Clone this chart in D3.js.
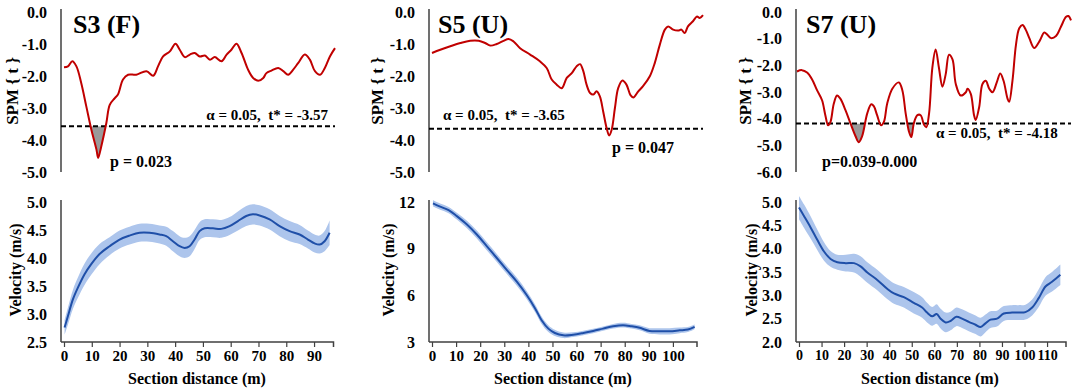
<!DOCTYPE html>
<html>
<head>
<meta charset="utf-8">
<script src="https://cdn.jsdelivr.net/npm/d3@7"></script>
<style>
  body { margin: 0; background: #fff; }
  svg { display: block; }
  text { font-family: "Liberation Serif", "Times New Roman", serif; font-weight: bold; fill: #000; }
</style>
</head>
<body>
<div id="chart"></div>
<script>
// ---- data ----

// SPM{t} curves (top row)
const s3SpmX = [0, 1.4, 2.95, 4.4, 6.1, 7.9, 9.7, 11.5, 12.1, 13.2, 15.0, 16.2, 18.0, 19.1, 20.9, 22.7, 25.6, 29.2, 31.6, 33.3, 35.1, 37.5, 39.5, 41.0, 42.8, 44.6, 46.3, 48.1, 49.9, 51.7, 53.4, 55.8, 57.6, 59.3, 61.1, 62.9, 65.2, 67.0, 68.8, 70.6, 71.7, 73.5, 75.9, 77.7, 79.4, 81.2, 83.0, 85.3, 87.1, 88.9, 90.7, 92.4, 94.2, 96.0];
const s3SpmT = [-1.73, -1.70, -1.54, -1.70, -2.22, -2.95, -3.68, -4.30, -4.56, -4.20, -3.47, -2.90, -2.69, -2.58, -2.11, -1.96, -1.96, -1.85, -1.99, -1.70, -1.39, -1.23, -0.99, -1.18, -1.41, -1.33, -1.28, -1.39, -1.36, -1.49, -1.41, -1.54, -1.33, -1.18, -0.99, -1.28, -1.80, -2.06, -2.15, -2.06, -1.91, -1.83, -1.75, -1.85, -1.96, -1.80, -1.59, -1.33, -1.49, -1.85, -1.96, -1.75, -1.39, -1.13];

const s5SpmX = [0, 3.3, 7.3, 11.3, 15.2, 18.6, 21.2, 23.2, 25.8, 28.5, 30.5, 32.5, 35.1, 39.1, 43.0, 45.7, 47.7, 49.7, 51.7, 53.7, 55.7, 57.6, 59.0, 60.3, 61.6, 63.0, 64.3, 65.6, 66.9, 68.2, 69.6, 70.6, 71.6, 72.9, 74.2, 75.9, 77.5, 79.1, 80.2, 82.2, 84.1, 86.8, 88.8, 90.8, 92.8, 94.1, 96.1, 98.1, 99.4, 100.7, 102.0, 104.0, 105.6, 106.7, 108.0];
const s5SpmT = [-1.28, -1.18, -1.07, -0.97, -0.90, -0.90, -0.97, -1.05, -1.00, -0.90, -0.84, -0.92, -1.13, -1.33, -1.54, -1.75, -2.11, -2.27, -2.38, -2.06, -1.91, -1.70, -1.63, -1.85, -2.27, -2.53, -2.58, -2.48, -2.64, -3.10, -3.63, -3.86, -3.68, -3.00, -2.38, -2.14, -2.27, -2.60, -2.67, -2.48, -2.32, -2.01, -1.59, -1.02, -0.55, -0.45, -0.55, -0.58, -0.55, -0.66, -0.45, -0.29, -0.14, -0.19, -0.10];

const s7SpmX = [0, 2.1, 4.3, 6.4, 8.6, 10.7, 12.1, 13.3, 14.3, 15.7, 17.1, 18.5, 20.7, 22.8, 25.0, 26.4, 27.8, 30.0, 31.7, 32.8, 34.2, 35.9, 37.1, 38.5, 40.7, 43.5, 45.0, 46.4, 47.8, 48.8, 49.9, 51.4, 52.8, 54.2, 55.2, 56.4, 57.8, 59.2, 60.6, 62.1, 63.5, 64.9, 66.4, 67.8, 69.9, 72.1, 72.8, 74.2, 75.6, 76.3, 77.8, 79.2, 80.6, 82.1, 83.5, 85.3, 86.8, 88.2, 89.9, 90.6, 92.0, 93.5, 94.9, 96.3, 97.7, 99.2, 101.3, 103.5, 105.6, 107.0, 108.5, 110.6, 112.7, 114.9, 115.9, 117.0];
const s7SpmT = [-2.23, -2.18, -2.27, -2.52, -2.94, -3.31, -3.87, -4.25, -4.12, -3.44, -3.13, -3.25, -3.68, -4.17, -4.66, -4.88, -4.66, -3.80, -3.46, -3.53, -3.87, -4.25, -4.12, -3.44, -2.88, -2.64, -2.94, -3.80, -4.48, -4.69, -4.17, -3.87, -3.87, -4.22, -4.32, -3.80, -2.09, -1.41, -2.09, -2.80, -2.33, -1.60, -1.78, -2.70, -3.13, -3.01, -2.88, -3.07, -3.87, -4.05, -3.56, -2.70, -2.58, -2.88, -3.01, -2.64, -2.31, -2.58, -3.25, -3.37, -2.58, -1.23, -0.61, -0.49, -0.67, -0.98, -1.35, -1.10, -0.77, -0.86, -0.98, -0.90, -0.55, -0.18, -0.15, -0.31];

// critical thresholds and supra-threshold clusters
const thresholds = [-3.57, -3.65, -4.18];
const thresholdLabels = ['α = 0.05,  t* = -3.57', 'α = 0.05,  t* = -3.65', 'α = 0.05,  t* = -4.18'];
const pLabels = ['p = 0.023', 'p = 0.047', 'p=0.039-0.000'];
const clusters = [[[8, 16]], [], [[21, 31], [46, 51]]];
const panelTitles = ['S3 (F)', 'S5 (U)', 'S7 (U)'];

// velocity mean +/- band (bottom row)
const s3VelX = [0.2, 1.4, 3.2, 5.0, 7.4, 9.8, 12.8, 16.4, 20.0, 23.6, 27.2, 30.8, 34.4, 36.8, 39.2, 41.6, 43.4, 45.2, 47.0, 48.8, 50.6, 53.6, 56.6, 59.6, 62.6, 65.6, 68.0, 70.4, 74.0, 77.6, 81.2, 84.8, 87.8, 90.2, 92.0, 93.8, 95.6];
const s3VelMean = [2.76, 2.96, 3.26, 3.47, 3.71, 3.89, 4.07, 4.21, 4.33, 4.40, 4.45, 4.45, 4.42, 4.39, 4.30, 4.21, 4.18, 4.21, 4.33, 4.48, 4.53, 4.53, 4.52, 4.57, 4.66, 4.75, 4.78, 4.76, 4.69, 4.57, 4.48, 4.42, 4.33, 4.26, 4.24, 4.30, 4.45];
const s3VelSd = [0.13, 0.15, 0.17, 0.18, 0.19, 0.19, 0.18, 0.16, 0.16, 0.16, 0.16, 0.16, 0.16, 0.17, 0.18, 0.18, 0.18, 0.18, 0.17, 0.16, 0.16, 0.16, 0.16, 0.16, 0.17, 0.18, 0.18, 0.18, 0.18, 0.18, 0.18, 0.17, 0.16, 0.16, 0.16, 0.18, 0.22];

const s5VelX = [0.4, 3.4, 6.9, 10.3, 14.5, 18.6, 22.8, 26.9, 31.0, 35.2, 39.3, 42.8, 45.5, 48.3, 51.0, 54.5, 58.6, 62.8, 66.9, 71.0, 75.2, 79.3, 82.8, 86.2, 90.3, 94.5, 98.6, 102.8, 106.2, 109.0];
const s5VelMean = [11.91, 11.70, 11.48, 11.09, 10.55, 9.91, 9.15, 8.40, 7.64, 6.88, 6.02, 5.16, 4.40, 3.86, 3.58, 3.43, 3.47, 3.58, 3.71, 3.86, 4.01, 4.08, 4.01, 3.91, 3.71, 3.69, 3.69, 3.75, 3.80, 3.97];
const s5VelSd = [0.2, 0.2, 0.2, 0.22, 0.24, 0.25, 0.26, 0.26, 0.26, 0.26, 0.26, 0.25, 0.24, 0.22, 0.2, 0.18, 0.15, 0.14, 0.14, 0.14, 0.15, 0.15, 0.15, 0.16, 0.18, 0.2, 0.2, 0.18, 0.16, 0.15];

const s7VelX = [0, 2.2, 5.2, 8.1, 11.1, 14.0, 17.0, 20.7, 24.4, 27.3, 30.3, 34.7, 39.1, 42.1, 46.5, 50.9, 54.6, 56.8, 59.1, 61.0, 62.8, 65.0, 67.2, 69.8, 72.3, 75.3, 78.3, 80.5, 82.7, 84.9, 87.8, 90.8, 94.5, 97.4, 100.4, 103.4, 106.3, 109.3, 112.2, 115.9];
const s7VelMean = [4.88, 4.70, 4.45, 4.19, 3.94, 3.78, 3.71, 3.69, 3.69, 3.62, 3.49, 3.33, 3.14, 3.04, 2.96, 2.84, 2.74, 2.63, 2.55, 2.60, 2.50, 2.42, 2.45, 2.54, 2.50, 2.43, 2.37, 2.32, 2.40, 2.48, 2.50, 2.61, 2.63, 2.63, 2.64, 2.74, 2.94, 3.19, 3.29, 3.44];
const s7VelSd = [0.25, 0.25, 0.24, 0.22, 0.2, 0.17, 0.16, 0.18, 0.2, 0.22, 0.22, 0.22, 0.22, 0.22, 0.22, 0.23, 0.22, 0.21, 0.2, 0.21, 0.21, 0.21, 0.2, 0.2, 0.2, 0.2, 0.2, 0.2, 0.19, 0.18, 0.17, 0.16, 0.16, 0.16, 0.16, 0.17, 0.19, 0.2, 0.21, 0.22];

// tick values
const spmTicks5 = [0, -1, -2, -3, -4, -5];
const spmTicks6 = [0, -1, -2, -3, -4, -5, -6];
const velTicksS3 = [2.5, 3.0, 3.5, 4.0, 4.5, 5.0];
const velTicksS5 = [3, 6, 9, 12];
const velTicksS7 = [2.0, 2.5, 3.0, 3.5, 4.0, 4.5, 5.0];
const distTicksS3 = [0, 10, 20, 30, 40, 50, 60, 70, 80, 90];
const distTicksS5 = [0, 10, 20, 30, 40, 50, 60, 70, 80, 90, 100];
const distTicksS7 = [0, 10, 20, 30, 40, 50, 60, 70, 80, 90, 100, 110];

// ---- layout per panel ----
const panels = [
  { spmX: s3SpmX, spmT: s3SpmT, spmTicks: spmTicks5, velX: s3VelX, velMean: s3VelMean, velSd: s3VelSd,
    velTicks: velTicksS3, distTicks: distTicksS3, dec: 1,
    axisX: 61, spmRange: [64, 335], spmMax: 96, distMax: 97, distRange: [64, 333.5],
    title: [73, 33], thrText: [328, 120, 'end'], pText: [110, 167], spmLab: 12, velLab: 15, distLab: 197 },
  { spmX: s5SpmX, spmT: s5SpmT, spmTicks: spmTicks5, velX: s5VelX, velMean: s5VelMean, velSd: s5VelSd,
    velTicks: velTicksS5, distTicks: distTicksS5, dec: 0,
    axisX: 429, spmRange: [432, 703], spmMax: 108, distMax: 110, distRange: [432, 697],
    title: [438, 33], thrText: [443, 120, 'start'], pText: [612, 153], spmLab: 377, velLab: 388, distLab: 563 },
  { spmX: s7SpmX, spmT: s7SpmT, spmTicks: spmTicks6, velX: s7VelX, velMean: s7VelMean, velSd: s7VelSd,
    velTicks: velTicksS7, distTicks: distTicksS7, dec: 1,
    axisX: 796, spmRange: [797, 1071], spmMax: 117, distMax: 118.4, distRange: [799, 1066],
    title: [806, 33], thrText: [936, 138, 'start'], pText: [822, 167], spmLab: 745, velLab: 751, distLab: 930 }
];

const width = 1074;
const height = 388;
const red = '#c00000';
const blue = '#1f4fa8';
const band = '#adc5ec';
const axisColor = '#404040';

const svg = d3.select('#chart').append('svg')
  .attr('width', width)
  .attr('height', height);
const defs = svg.append('defs');

panels.forEach((p, i) => {
  const g = svg.append('g');

  // ---------- top: SPM{t} ----------
  const spmMin = d3.min(p.spmTicks);
  const xs = d3.scaleLinear().domain([0, p.spmMax]).range(p.spmRange);
  const ys = d3.scaleLinear().domain([spmMin, 0]).range([172, 12]);
  const spmData = p.spmX.map((x, k) => ({ x: x, t: p.spmT[k] }));
  const thr = thresholds[i];

  // shaded supra-threshold clusters
  const clipId = 'clip' + i;
  defs.append('clipPath').attr('id', clipId)
    .selectAll('rect').data(clusters[i]).join('rect')
    .attr('x', d => xs(d[0]))
    .attr('width', d => xs(d[1]) - xs(d[0]))
    .attr('y', ys(thr))
    .attr('height', ys(spmMin) - ys(thr));

  const shadeArea = d3.area()
    .x(d => xs(d.x))
    .y0(ys(thr))
    .y1(d => ys(d.t))
    .curve(d3.curveCatmullRom);
  if (clusters[i].length) {
    g.append('path')
      .datum(spmData)
      .attr('d', shadeArea)
      .attr('fill', '#9a9a9a')
      .attr('clip-path', `url(#${clipId})`);
  }

  // y axis
  const yAxisTop = g.append('g')
    .attr('transform', `translate(${p.axisX},0)`)
    .call(d3.axisLeft(ys).tickValues(p.spmTicks).tickSize(0).tickSizeOuter(0).tickPadding(14)
      .tickFormat(d => d.toFixed(1)));
  yAxisTop.select('.domain').attr('d', 'M0,9V172').attr('stroke', axisColor).attr('stroke-width', 1.5);
  yAxisTop.selectAll('text').attr('font-size', 16).style('font-family', null);

  // threshold line
  g.append('line')
    .attr('x1', p.axisX).attr('x2', p.spmRange[1])
    .attr('y1', ys(thr)).attr('y2', ys(thr))
    .attr('stroke', '#000').attr('stroke-width', 2)
    .attr('stroke-dasharray', '5,3');

  // SPM trajectory
  const spmLine = d3.line()
    .x(d => xs(d.x))
    .y(d => ys(d.t))
    .curve(d3.curveCatmullRom);
  g.append('path')
    .datum(spmData)
    .attr('d', spmLine)
    .attr('fill', 'none')
    .attr('stroke', red)
    .attr('stroke-width', 2);

  // texts
  g.append('text')
    .attr('x', p.title[0]).attr('y', p.title[1])
    .attr('font-size', 26)
    .text(panelTitles[i]);
  g.append('text')
    .attr('x', p.thrText[0]).attr('y', p.thrText[1])
    .attr('text-anchor', p.thrText[2])
    .attr('font-size', 15)
    .style('white-space', 'pre')
    .text(thresholdLabels[i]);
  g.append('text')
    .attr('x', p.pText[0]).attr('y', p.pText[1])
    .attr('font-size', 16)
    .text(pLabels[i]);
  g.append('text')
    .attr('transform', `translate(${p.spmLab},91) rotate(-90)`)
    .attr('text-anchor', 'middle')
    .attr('dy', '0.35em')
    .attr('font-size', 17)
    .style('white-space', 'pre')
    .text('SPM { t }');

  // ---------- bottom: velocity ----------
  const xv = d3.scaleLinear().domain([0, p.distMax]).range(p.distRange);
  const yv = d3.scaleLinear().domain(d3.extent(p.velTicks)).range([342, 202]);
  const velData = p.velX.map((x, k) => ({ x: x, m: p.velMean[k], s: p.velSd[k] }));

  g.append('path')
    .datum(velData)
    .attr('d', d3.area()
      .x(d => xv(d.x))
      .y0(d => yv(d.m - d.s))
      .y1(d => yv(d.m + d.s))
      .curve(d3.curveCatmullRom))
    .attr('fill', band);

  g.append('path')
    .datum(velData)
    .attr('d', d3.line()
      .x(d => xv(d.x))
      .y(d => yv(d.m))
      .curve(d3.curveCatmullRom))
    .attr('fill', 'none')
    .attr('stroke', blue)
    .attr('stroke-width', 2);

  const yAxisBot = g.append('g')
    .attr('transform', `translate(${p.axisX},0)`)
    .call(d3.axisLeft(yv).tickValues(p.velTicks).tickSize(0).tickSizeOuter(0).tickPadding(14)
      .tickFormat(d => d.toFixed(p.dec)));
  yAxisBot.select('.domain').attr('d', 'M0,200V342').attr('stroke', axisColor).attr('stroke-width', 1.5);
  yAxisBot.selectAll('text').attr('font-size', 16).style('font-family', null);

  const xAxisBot = g.append('g')
    .attr('transform', 'translate(0,342)')
    .call(d3.axisBottom(xv).tickValues(p.distTicks).tickSize(5).tickSizeOuter(5).tickPadding(3));
  xAxisBot.select('.domain')
    .attr('d', `M${p.axisX},0H${p.distRange[1]}V5`)
    .attr('stroke', axisColor).attr('stroke-width', 1.5);
  xAxisBot.selectAll('.tick line').attr('stroke', axisColor).attr('stroke-width', 1.2);
  xAxisBot.selectAll('text').attr('font-size', i === 2 ? 14 : 15).style('font-family', null);

  g.append('text')
    .attr('transform', `translate(${p.velLab},270) rotate(-90)`)
    .attr('text-anchor', 'middle')
    .attr('dy', '0.35em')
    .attr('font-size', 16)
    .text('Velocity (m/s)');
  g.append('text')
    .attr('x', p.distLab).attr('y', 384)
    .attr('text-anchor', 'middle')
    .attr('font-size', 16)
    .text('Section distance (m)');
});

// d3 axes set their own font attributes on the group; reset so the CSS serif applies
svg.selectAll('g').attr('font-family', null);
</script>
</body>
</html>
